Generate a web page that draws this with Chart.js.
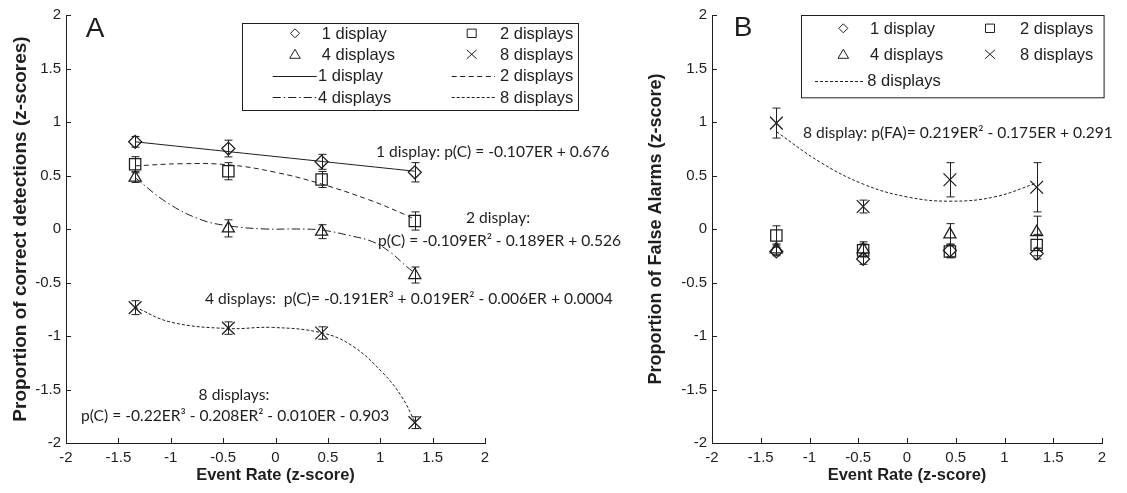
<!DOCTYPE html>
<html><head><meta charset="utf-8">
<script src="https://cdn.jsdelivr.net/npm/chart.js@4.4.1/dist/chart.umd.min.js"></script>
<style>
html,body{margin:0;padding:0;background:#fff;}
#wrap{position:relative;width:1127px;height:493px;overflow:hidden;background:#fff;}
canvas{position:absolute;top:0;}
#cA{left:0;} #cB{left:625px;}
</style></head><body>
<div id="wrap"><canvas id="cA" width="625" height="493"></canvas><canvas id="cB" width="502" height="493"></canvas></div>
<script>
// ---------- data ----------
const seriesNames = ['1 display', '2 displays', '4 displays', '8 displays'];
const eventRate = [-1.34, -0.45, 0.44, 1.33];
const xTicks = [-2, -1.5, -1, -0.5, 0, 0.5, 1, 1.5, 2];
const xTickLabels = ['-2', '-1.5', '-1', '-0.5', '0', '0.5', '1', '1.5', '2'];
const yTicks = [-2, -1.5, -1, -0.5, 0, 0.5, 1, 1.5, 2];
const yTickLabels = ['-2', '-1.5', '-1', '-0.5', '0', '0.5', '1', '1.5', '2'];

// Panel A: correct detections
const detect1 = [0.815, 0.752, 0.628, 0.53];
const detect1Err = [0.05, 0.078, 0.07, 0.09];
const detect2 = [0.606, 0.54, 0.463, 0.075];
const detect2Err = [0.07, 0.08, 0.075, 0.085];
const detect4 = [0.48, 0.006, -0.025, -0.43];
const detect4Err = [0.045, 0.08, 0.065, 0.075];
const detect8 = [-0.735, -0.926, -0.972, -1.81];
const detect8Err = [0.065, 0.058, 0.058, 0.055];

// Panel A fitted curves
const fit1X = [-1.34, 1.33];
const fit1Y = [0.815, 0.54];
const fit2X = [-1.34, -0.9, -0.45, 0, 0.44, 0.9, 1.23, 1.33];
const fit2Y = [0.59, 0.61, 0.60, 0.53, 0.42, 0.27, 0.137, 0.09];
const fit4X = [-1.34, -1.04, -0.72, -0.45, -0.1, 0.2, 0.44, 0.7, 0.93, 1.1, 1.25, 1.33];
const fit4Y = [0.48, 0.25, 0.09, 0.03, 0.0, 0.0, -0.01, -0.06, -0.12, -0.22, -0.35, -0.41];
const fit8X = [-1.34, -1.0, -0.46, -0.03, 0.44, 0.73, 1.02, 1.2, 1.33];
const fit8Y = [-0.73, -0.87, -0.93, -0.92, -0.97, -1.09, -1.34, -1.56, -1.80];

// Panel B: false alarms
const fa1 = [-0.21, -0.28, -0.20, -0.23];
const fa1Err = [0.04, 0.05, 0.06, 0.05];
const fa2 = [-0.06, -0.20, -0.21, -0.15];
const fa2Err = [0.09, 0.06, 0.06, 0.10];
const fa4 = [-0.19, -0.19, -0.05, -0.03];
const fa4Err = [0.05, 0.07, 0.10, 0.15];
const fa8 = [0.99, 0.21, 0.46, 0.39];
const fa8Err = [0.14, 0.06, 0.16, 0.23];
const fitBX = [-1.34, -0.9, -0.45, 0, 0.44, 0.9, 1.33];
const fitBY = [0.91, 0.63, 0.42, 0.30, 0.26, 0.30, 0.43];

// ---------- style ----------
const INK = '#1e1e1e';
const SANS = '"Liberation Sans", Arial, Helvetica, sans-serif';
const NOTE = 'Lato, "Open Sans", sans-serif';
Chart.defaults.font.family = SANS;
Chart.defaults.color = INK;

const markerStyle = {
  '1 display': { pointStyle: 'rectRot', radius: 6.5 },
  '2 displays': { pointStyle: 'rect', radius: 8 },
  '4 displays': { pointStyle: 'triangle', radius: 7 },
  '8 displays': { pointStyle: 'crossRot', radius: 9 }
};
const DASH = { solid: [], dashed: [5, 3.5], dashdot: [8, 3, 1.5, 3], dotted: [3, 2] };

function pts(xs, ys) { return xs.map((x, i) => ({ x: x, y: ys[i] })); }

function markerSet(name, ys, errs) {
  const m = markerStyle[name];
  return {
    label: name, data: pts(eventRate, ys), errors: errs, showLine: false,
    pointStyle: m.pointStyle, pointRadius: m.radius, pointHoverRadius: m.radius,
    pointBorderColor: INK, pointBackgroundColor: 'rgba(0,0,0,0)', pointBorderWidth: 1.25
  };
}
function fitSet(name, xs, ys, dash) {
  return {
    label: name + ' fit', data: pts(xs, ys), showLine: true, pointRadius: 0,
    borderColor: INK, borderWidth: 1, borderDash: dash, tension: 0.4, fill: false
  };
}

function drawSym(ctx, kind, x, y) {
  ctx.beginPath();
  if (kind === 'diamond') { ctx.moveTo(x, y - 4.5); ctx.lineTo(x + 4.5, y); ctx.lineTo(x, y + 4.5); ctx.lineTo(x - 4.5, y); ctx.closePath(); }
  else if (kind === 'square') { ctx.rect(x - 4.5, y - 4.2, 9, 8.4); }
  else if (kind === 'triangle') { ctx.moveTo(x, y - 5); ctx.lineTo(x + 5.3, y + 4); ctx.lineTo(x - 5.3, y + 4); ctx.closePath(); }
  else if (kind === 'cross') { ctx.moveTo(x - 5, y - 4.5); ctx.lineTo(x + 5, y + 4.5); ctx.moveTo(x + 5, y - 4.5); ctx.lineTo(x - 5, y + 4.5); }
  ctx.stroke();
}

const boxLegend = {
  id: 'boxLegend',
  afterDraw(chart, args, opts) {
    const L = opts.spec; if (!L) return;
    const ctx = chart.ctx;
    ctx.save();
    ctx.strokeStyle = INK; ctx.lineWidth = 1;
    ctx.strokeRect(Math.round(L.box[0]) + 0.5, Math.round(L.box[1]) + 0.5, L.box[2], L.box[3]);
    ctx.font = '16.5px ' + SANS;
    ctx.fillStyle = INK; ctx.textBaseline = 'middle'; ctx.textAlign = 'left';
    L.items.forEach(it => {
      if (it.sym) drawSym(ctx, it.sym, it.sx, it.y);
      if (it.line) {
        ctx.setLineDash(it.dash); ctx.beginPath();
        ctx.moveTo(it.line[0], Math.round(it.y) + 0.5); ctx.lineTo(it.line[1], Math.round(it.y) + 0.5);
        ctx.stroke(); ctx.setLineDash([]);
      }
      ctx.fillText(it.text, it.tx, it.y + 1);
    });
    ctx.restore();
  }
};

const errorBars = {
  id: 'errorBars',
  afterDatasetsDraw(chart) {
    const ctx = chart.ctx, xs = chart.scales.x, ys = chart.scales.y;
    ctx.save(); ctx.strokeStyle = INK; ctx.lineWidth = 1;
    chart.data.datasets.forEach(ds => {
      if (!ds.errors) return;
      ds.data.forEach((p, i) => {
        const e = ds.errors[i];
        const px = Math.round(xs.getPixelForValue(p.x)) + 0.5;
        const y1 = ys.getPixelForValue(p.y + e), y2 = ys.getPixelForValue(p.y - e);
        ctx.beginPath();
        ctx.moveTo(px, y1); ctx.lineTo(px, y2);
        ctx.moveTo(px - 4, y1); ctx.lineTo(px + 4, y1);
        ctx.moveTo(px - 4, y2); ctx.lineTo(px + 4, y2);
        ctx.stroke();
      });
    });
    ctx.restore();
  }
};

const innerTicks = {
  id: 'innerTicks',
  afterDraw(chart) {
    const ctx = chart.ctx, a = chart.chartArea, x = chart.scales.x, y = chart.scales.y;
    ctx.save(); ctx.strokeStyle = INK; ctx.lineWidth = 1; ctx.beginPath();
    x.ticks.forEach(t => { const px = Math.round(x.getPixelForValue(t.value)) + 0.5; ctx.moveTo(px, a.bottom); ctx.lineTo(px, a.bottom - 5); });
    y.ticks.forEach(t => { const py = Math.round(y.getPixelForValue(t.value)) + 0.5; ctx.moveTo(a.left, py); ctx.lineTo(a.left + 5, py); });
    ctx.stroke(); ctx.restore();
  }
};

const notes = {
  id: 'notes',
  afterDraw(chart, args, opts) {
    const ctx = chart.ctx, xs = chart.scales.x, ys = chart.scales.y;
    ctx.save(); ctx.fillStyle = INK; ctx.textBaseline = 'middle';
    (opts.items || []).forEach(n => {
      ctx.font = n.font; ctx.textAlign = n.align;
      ctx.fillText(n.text, xs.getPixelForValue(n.x), ys.getPixelForValue(n.y));
    });
    ctx.restore();
  }
};

function makeChart(id, datasets, yTitle, yTitleSize, yWidth, yTitlePad, rightPad, legendSpec, noteItems) {
  return new Chart(document.getElementById(id), {
    type: 'scatter',
    data: { datasets: datasets },
    options: {
      responsive: false, animation: false,
      layout: { padding: { left: 0, right: rightPad, top: 15, bottom: 0 } },
      plugins: { legend: { display: false }, tooltip: { enabled: false },
        boxLegend: { spec: legendSpec }, notes: { items: noteItems } },
      scales: {
        x: {
          type: 'linear', min: -2, max: 2,
          afterBuildTicks: s => { s.ticks = xTicks.map(v => ({ value: v })); },
          ticks: { font: { size: 15 }, color: INK, padding: 6, maxRotation: 0, autoSkip: false,
            callback: (v, i) => xTickLabels[i] },
          grid: { display: false, drawTicks: false },
          border: { display: true, color: INK, width: 1 },
          title: { display: true, text: 'Event Rate (z-score)', color: INK,
            font: { size: 16.5, weight: 'bold' }, padding: { top: 0, bottom: 8 } },
          afterFit: s => { s.height = 50; }
        },
        y: {
          type: 'linear', min: -2, max: 2,
          afterBuildTicks: s => { s.ticks = yTicks.map(v => ({ value: v })); },
          ticks: { font: { size: 15 }, color: INK, padding: 5, autoSkip: false,
            callback: (v, i) => yTickLabels[i] },
          grid: { display: false, drawTicks: false },
          border: { display: true, color: INK, width: 1 },
          title: { display: true, text: yTitle, color: INK,
            font: { size: yTitleSize, weight: 'bold' }, padding: { top: yTitlePad, bottom: 0 } },
          afterFit: s => { s.width = yWidth; }
        }
      }
    },
    plugins: [errorBars, innerTicks, boxLegend, notes]
  });
}

// ---------- panel A ----------
const dsA = [
  fitSet(seriesNames[0], fit1X, fit1Y, DASH.solid),
  fitSet(seriesNames[1], fit2X, fit2Y, DASH.dashed),
  fitSet(seriesNames[2], fit4X, fit4Y, DASH.dashdot),
  fitSet(seriesNames[3], fit8X, fit8Y, DASH.dotted),
  markerSet(seriesNames[0], detect1, detect1Err),
  markerSet(seriesNames[1], detect2, detect2Err),
  markerSet(seriesNames[2], detect4, detect4Err),
  markerSet(seriesNames[3], detect8, detect8Err)
];
const legA = {
  box: [242, 23, 336, 87],
  items: [
    { sym: 'diamond', sx: 295, tx: 321.7, y: 33.3, text: seriesNames[0] },
    { sym: 'square', sx: 471.7, tx: 500, y: 33.3, text: seriesNames[1] },
    { sym: 'triangle', sx: 295, tx: 321.7, y: 54.3, text: seriesNames[2] },
    { sym: 'cross', sx: 471.7, tx: 500, y: 54.3, text: seriesNames[3] },
    { line: [272.7, 316.7], dash: DASH.solid, tx: 318, y: 75.7, text: seriesNames[0] },
    { line: [451.7, 495], dash: DASH.dashed, tx: 500, y: 75.7, text: seriesNames[1] },
    { line: [272.7, 316.7], dash: DASH.dashdot, tx: 318, y: 97.3, text: seriesNames[2] },
    { line: [451.7, 496], dash: DASH.dotted, tx: 500, y: 97.3, text: seriesNames[3] }
  ]
};
const NF = '15.6px ' + NOTE;
const notesA = [
  { text: 'A', x: -1.723, y: 1.87, align: 'center', font: '28px ' + SANS },
  { text: '1 display: p(C) = -0.107ER + 0.676', x: 0.959, y: 0.72, align: 'left', font: NF },
  { text: '2 display:', x: 2.124, y: 0.103, align: 'center', font: NF },
  { text: 'p(C) = -0.109ER² - 0.189ER + 0.526', x: 0.979, y: -0.112, align: 'left', font: NF },
  { text: '4 displays:  p(C)= -0.191ER³ + 0.019ER² - 0.006ER + 0.0004', x: -0.673, y: -0.654, align: 'left', font: NF },
  { text: '8 displays:', x: -0.396, y: -1.551, align: 'center', font: NF },
  { text: 'p(C) = -0.22ER³ - 0.208ER² - 0.010ER - 0.903', x: -1.857, y: -1.748, align: 'left', font: NF }
];
makeChart('cA', dsA, 'Proportion of correct detections (z-scores)', 19, 66, 9.6, 140, legA, notesA);

// ---------- panel B ----------
const dsB = [
  fitSet(seriesNames[3], fitBX, fitBY, DASH.dotted),
  markerSet(seriesNames[0], fa1, fa1Err),
  markerSet(seriesNames[1], fa2, fa2Err),
  markerSet(seriesNames[2], fa4, fa4Err),
  markerSet(seriesNames[3], fa8, fa8Err)
];
const OX = 625;
const legB = {
  box: [800.7 - OX, 15, 302.6, 82.3],
  items: [
    { sym: 'diamond', sx: 843.3 - OX, tx: 870 - OX, y: 28.3, text: seriesNames[0] },
    { sym: 'square', sx: 990 - OX, tx: 1020 - OX, y: 28.3, text: seriesNames[1] },
    { sym: 'triangle', sx: 843.3 - OX, tx: 870 - OX, y: 54.3, text: seriesNames[2] },
    { sym: 'cross', sx: 990 - OX, tx: 1020 - OX, y: 54.3, text: seriesNames[3] },
    { line: [815 - OX, 865 - OX], dash: DASH.dotted, tx: 867.3 - OX, y: 80.7, text: seriesNames[3] }
  ]
};
const notesB = [
  { text: 'B', x: -1.682, y: 1.88, align: 'center', font: '28px ' + SANS },
  { text: '8 display: p(FA)= 0.219ER² - 0.175ER + 0.291', x: -1.067, y: 0.897, align: 'left', font: NF }
];
makeChart('cB', dsB, 'Proportion of False Alarms (z-score)', 18, 87, 20.2, 25, legB, notesB);
</script>
</body></html>
